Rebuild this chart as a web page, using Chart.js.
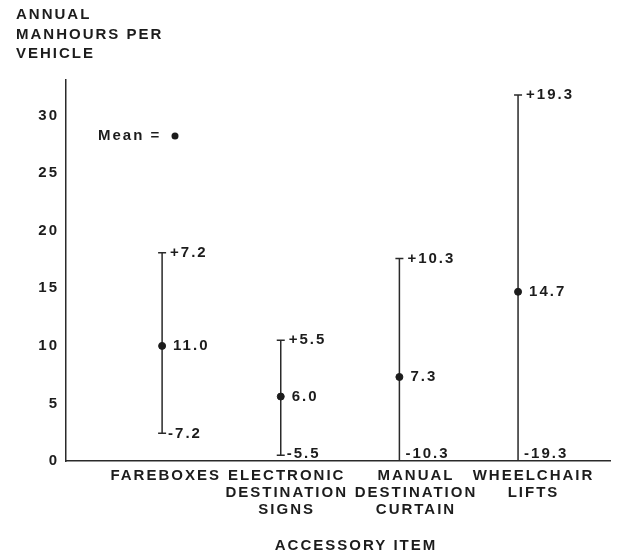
<!DOCTYPE html>
<html>
<head>
<meta charset="utf-8">
<script src="https://cdn.jsdelivr.net/npm/chart.js@4/dist/chart.umd.min.js"></script>
<style>
  body { margin: 0; background: #fff; }
</style>
</head>
<body>
<canvas id="chart" width="619" height="558"></canvas>
<script>
'use strict';

// data
let categories = [
  ['FAREBOXES'],
  ['ELECTRONIC', 'DESTINATION', 'SIGNS'],
  ['MANUAL', 'DESTINATION', 'CURTAIN'],
  ['WHEELCHAIR', 'LIFTS']
];
let means = [10.0, 5.6, 7.3, 14.7];
let highs = [18.1, 10.5, 17.6, 31.8];
let lows = [2.4, 0.5, 0, 0];
let meanLabels = ['11.0', '6.0', '7.3', '14.7'];
let plusLabels = ['+7.2', '+5.5', '+10.3', '+19.3'];
let minusLabels = ['-7.2', '-5.5', '-10.3', '-19.3'];
let yTicks = [0, 5, 10, 15, 20, 25, 30];

let ink = '#1c1c1c';
let family = '"Liberation Sans", Arial, sans-serif';
let font = 'bold 15px ' + family;
// labels under the axis sit a bit right of their bar in the original
let labelShift = [0.03, 0.05, 0.14, 0.13];

// wide tracking like the old lettering
let spacing = {
  id: 'spacing',
  beforeUpdate(chart) { chart.ctx.letterSpacing = '2px'; },
  beforeDraw(chart) { chart.ctx.letterSpacing = '2px'; }
};

// error bars + value labels
let errorBars = {
  id: 'errorBars',
  beforeDatasetsDraw(chart) {
    let ctx = chart.ctx;
    let x = chart.scales.x;
    let y = chart.scales.y;
    ctx.save();
    ctx.strokeStyle = '#2a2a2a';
    ctx.lineWidth = 1.5;
    for (let i = 0; i < means.length; i++) {
      let px = x.getPixelForValue(i + 1);
      let top = y.getPixelForValue(highs[i]);
      let bot = y.getPixelForValue(lows[i]);
      ctx.beginPath();
      ctx.moveTo(px, top);
      ctx.lineTo(px, bot);
      ctx.moveTo(px - 4, top);
      ctx.lineTo(px + 4, top);
      if (lows[i] > 0) {
        ctx.moveTo(px - 4, bot);
        ctx.lineTo(px + 4, bot);
      }
      ctx.stroke();
    }
    ctx.restore();
  },
  afterDatasetsDraw(chart) {
    let ctx = chart.ctx;
    let x = chart.scales.x;
    let y = chart.scales.y;
    let area = chart.chartArea;
    ctx.save();
    ctx.letterSpacing = '2px';
    ctx.fillStyle = ink;
    ctx.font = font;
    ctx.textAlign = 'left';
    ctx.textBaseline = 'middle';
    for (let i = 0; i < means.length; i++) {
      let px = x.getPixelForValue(i + 1);
      ctx.fillText(meanLabels[i], px + 11, y.getPixelForValue(means[i]));
      ctx.fillText(plusLabels[i], px + 8, y.getPixelForValue(highs[i]));
      let bot = Math.min(y.getPixelForValue(lows[i]), area.bottom - 7);
      ctx.fillText(minusLabels[i], px + 6, bot);
    }
    ctx.restore();
  }
};

// titles and the mean key
let texts = {
  id: 'texts',
  afterDraw(chart) {
    let ctx = chart.ctx;
    ctx.save();
    ctx.letterSpacing = '2px';
    ctx.fillStyle = ink;
    ctx.textBaseline = 'middle';
    ctx.textAlign = 'left';
    ctx.font = font;
    ctx.fillText('ANNUAL', 16, 15);
    ctx.fillText('MANHOURS PER', 16, 35);
    ctx.fillText('VEHICLE', 16, 54);
    ctx.fillText('Mean =', 98, 136);
    ctx.beginPath();
    ctx.arc(175, 136, 3.5, 0, Math.PI * 2);
    ctx.fill();
    ctx.textAlign = 'center';
    ctx.fillText('ACCESSORY ITEM', 356, 546);
    ctx.restore();
  }
};

let ctx = document.getElementById('chart').getContext('2d');
let myChart = new Chart(ctx, { //eslint-disable-line
  type: 'scatter',
  data: {
    datasets: [{
      data: means.map((m, i) => ({ x: i + 1, y: m })),
      backgroundColor: ink,
      borderColor: ink,
      pointRadius: 3.5,
      pointHoverRadius: 3.5
    }]
  },
  options: {
    responsive: false,
    animation: false,
    devicePixelRatio: 1,
    layout: { padding: { top: 80, right: 9, bottom: 0, left: 0 } },
    plugins: { legend: { display: false }, tooltip: { enabled: false } },
    scales: {
      x: {
        type: 'linear',
        min: 0.19,
        max: 4.775,
        grid: { display: false, drawTicks: false },
        border: { display: true, color: '#2a2a2a', width: 1.5 },
        afterBuildTicks(scale) {
          scale.ticks = categories.map((c, i) => ({ value: i + 1 + labelShift[i] }));
        },
        afterFit(scale) { scale.height = 97; },
        ticks: {
          autoSkip: false,
          maxRotation: 0,
          padding: 6,
          color: ink,
          font: { family: family, size: 15, weight: 'bold', lineHeight: 1.14 },
          callback: (v, i) => categories[i]
        }
      },
      y: {
        min: 0,
        max: 33.1,
        grid: { display: false, drawTicks: false },
        border: { display: true, color: '#2a2a2a', width: 1.5 },
        afterBuildTicks(scale) {
          scale.ticks = yTicks.map(v => ({ value: v }));
        },
        afterFit(scale) { scale.width = 66; },
        ticks: {
          padding: 7,
          color: ink,
          font: { family: family, size: 15, weight: 'bold' }
        }
      }
    }
  },
  plugins: [spacing, errorBars, texts]
});
</script>
</body>
</html>
